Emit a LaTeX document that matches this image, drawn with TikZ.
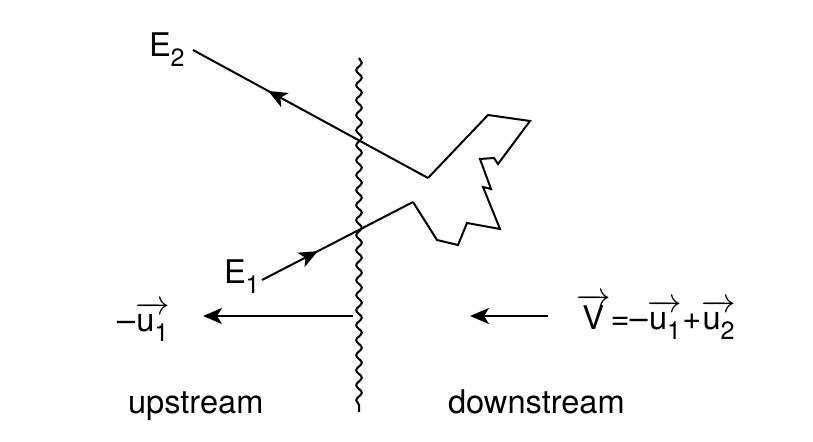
\documentclass[tikz,border=0pt]{standalone}
\usepackage{fontspec}
\setmainfont{TeX Gyre Heros}
\usepackage{amsmath}
\usetikzlibrary{decorations.pathmorphing,decorations.markings,arrows.meta}
\newcommand\vb[1]{\ensuremath{\overrightarrow{\mbox{#1}}}}
\newcommand\sbx[1]{\raisebox{-0.28em}{\fontsize{12.5}{13}\selectfont #1}}
\begin{document}
\begin{tikzpicture}[x=0.5pt,y=-0.5pt,line width=1pt,line join=miter,
  lbl/.style={font=\fontsize{16.3}{19}\selectfont,inner sep=0pt,anchor=base west},
  tipx/.style={-{Stealth[length=9.5pt,width=8pt,inset=2.5pt]}},
  midarrow/.style={postaction={decorate},decoration={markings,mark=at position #1 with {\arrow{Stealth[length=9.5pt,width=8pt,inset=2.5pt]}}}},
  wavy/.style={decorate,decoration={snake,segment length=7.5pt,amplitude=1.4pt}}]
\useasboundingbox (0,0) rectangle (813,442);
% wavy shock
\coordinate (wt) at (359,58);
\coordinate (wb) at (359,412);
\draw[wavy] (wt) -- (wb);
% E2 line with arrow
\coordinate (e2s) at (193,50);
\coordinate (j2) at (428,178);
\draw[midarrow=0.68] (j2) -- (e2s);
% zigzag
\coordinate (j1) at (413,202);
\draw (j2) -- (488,115) -- (530,121) -- (498,164) -- (494,158) -- (480,159)
  -- (491,189) -- (483,187) -- (500,229) -- (467,223) -- (458,245) -- (437,240) -- (j1);
% E1 line
\coordinate (e1s) at (262,280);
\draw[midarrow=0.37] (e1s) -- (j1);
% arrows
\coordinate (a1s) at (353,316);
\coordinate (a1e) at (203,316);
\draw[tipx] (a1s) -- (a1e);
\coordinate (a2s) at (548,316);
\coordinate (a2e) at (470,316);
\draw[tipx] (a2s) -- (a2e);
% labels
\node[lbl] (E2) at (148,57) {E\sbx{2}};
\node[lbl] (E1) at (223,284) {E\sbx{1}};
\node[lbl] (mu) at (116,332) {--\vb{u\sbx{1}}};
\node[lbl] (V) at (575,330) {\vb{V}=--\vb{u\sbx{1}}+\vb{u\sbx{2}}};
\node[lbl] (up) at (127,414) {upstream};
\node[lbl] (down) at (447,414) {downstream};
\end{tikzpicture}
\end{document}
